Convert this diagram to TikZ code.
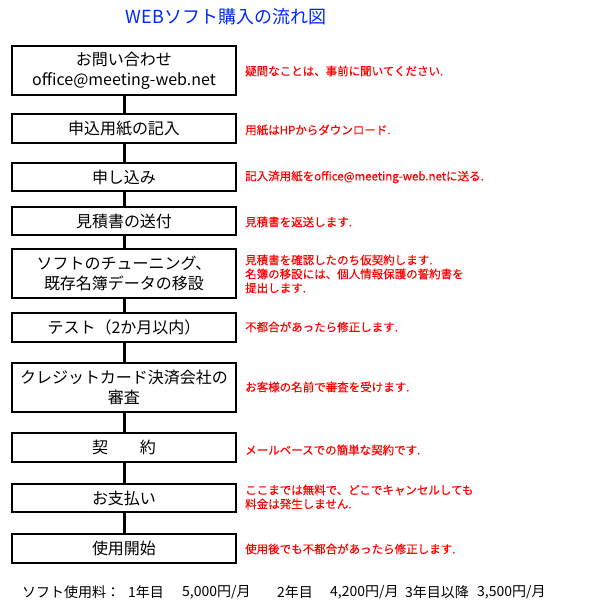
\documentclass[tikz,border=0pt]{standalone}
\usepackage{fontspec}
\setmainfont{Noto Sans CJK JP}
\newfontfamily\notefont[FakeBold=0.3]{Noto Sans CJK JP}
\definecolor{titleblue}{RGB}{0,40,255}
\definecolor{notered}{RGB}{255,0,0}
\begin{document}
\begin{tikzpicture}[x=1pt,y=-1pt,
  stepbox/.style={draw=black,line width=1.8pt,minimum width=224pt,inner sep=0pt,
    font=\fontsize{16}{20}\selectfont,align=center},
  note/.style={anchor=west,text=notered,font=\notefont\fontsize{11.5}{14}\selectfont,align=left,inner sep=0pt},
  link/.style={line width=3pt},
  fee/.style={anchor=west,inner sep=0pt,font=\fontsize{14}{16}\selectfont}]
\useasboundingbox (0,0) rectangle (591,606);

\node[text=titleblue,font=\fontsize{18}{20}\selectfont] (title) at (226,17) {WEBソフト購入の流れ図};

\node[stepbox,minimum height=49pt] (b1) at (124,70.5) {お問い合わせ\\office@meeting-web.net};
\node[stepbox,minimum height=29pt] (b2) at (124,128.5) {申込用紙の記入};
\node[stepbox,minimum height=28pt] (b3) at (124,177) {申し込み};
\node[stepbox,minimum height=28pt] (b4) at (124,221) {見積書の送付};
\node[stepbox,minimum height=49pt] (b5) at (124,273.5) {ソフトのチューニング、\\既存名簿データの移設};
\node[stepbox,minimum height=29pt] (b6) at (124,327.5) {テスト（2か月以内）};
\node[stepbox,minimum height=49pt] (b7) at (124,387.5) {クレジットカード決済会社の\\審査};
\node[stepbox,minimum height=29pt] (b8) at (124,447.5) {契　　約};
\node[stepbox,minimum height=28pt] (b9) at (124,498) {お支払い};
\node[stepbox,minimum height=29pt] (b10) at (124,548.5) {使用開始};

\draw[link] (b1) -- (b2);
\draw[link] (b2) -- (b3);
\draw[link] (b3) -- (b4);
\draw[link] (b4) -- (b5);
\draw[link] (b5) -- (b6);
\draw[link] (b6) -- (b7);
\draw[link] (b7) -- (b8);
\draw[link] (b8) -- (b9);
\draw[link] (b9) -- (b10);

\node[note] (n1) at (245,71) {疑問なことは、事前に聞いてください.};
\node[note] (n2) at (245,130) {用紙はHPからダウンロード.};
\node[note] (n3) at (245,177) {記入済用紙をoffice@meeting-web.netに送る.};
\node[note] (n4) at (245,222) {見積書を返送します.};
\node[note] (n5) at (245,274) {見積書を確認したのち仮契約します.\\名簿の移設には、個人情報保護の誓約書を\\提出します.};
\node[note] (n6) at (245,327) {不都合があったら修正します.};
\node[note] (n7) at (245,387) {お客様の名前で審査を受けます.};
\node[note] (n8) at (245,450) {メールベースでの簡単な契約です.};
\node[note] (n9) at (245,497) {ここまでは無料で、どこでキャンセルしても\\料金は発生しません.};
\node[note] (n10) at (245,549) {使用後でも不都合があったら修正します.};

\node[fee] (f0) at (22,592) {ソフト使用料：};
\node[fee] (f1) at (128,592) {1年目};
\node[fee] (f2) at (182,592) {5,000円/月};
\node[fee] (f3) at (277,592) {2年目};
\node[fee] (f4) at (330,592) {4,200円/月};
\node[fee] (f5) at (405,592) {3年目以降};
\node[fee] (f6) at (477,592) {3,500円/月};
\end{tikzpicture}
\end{document}
